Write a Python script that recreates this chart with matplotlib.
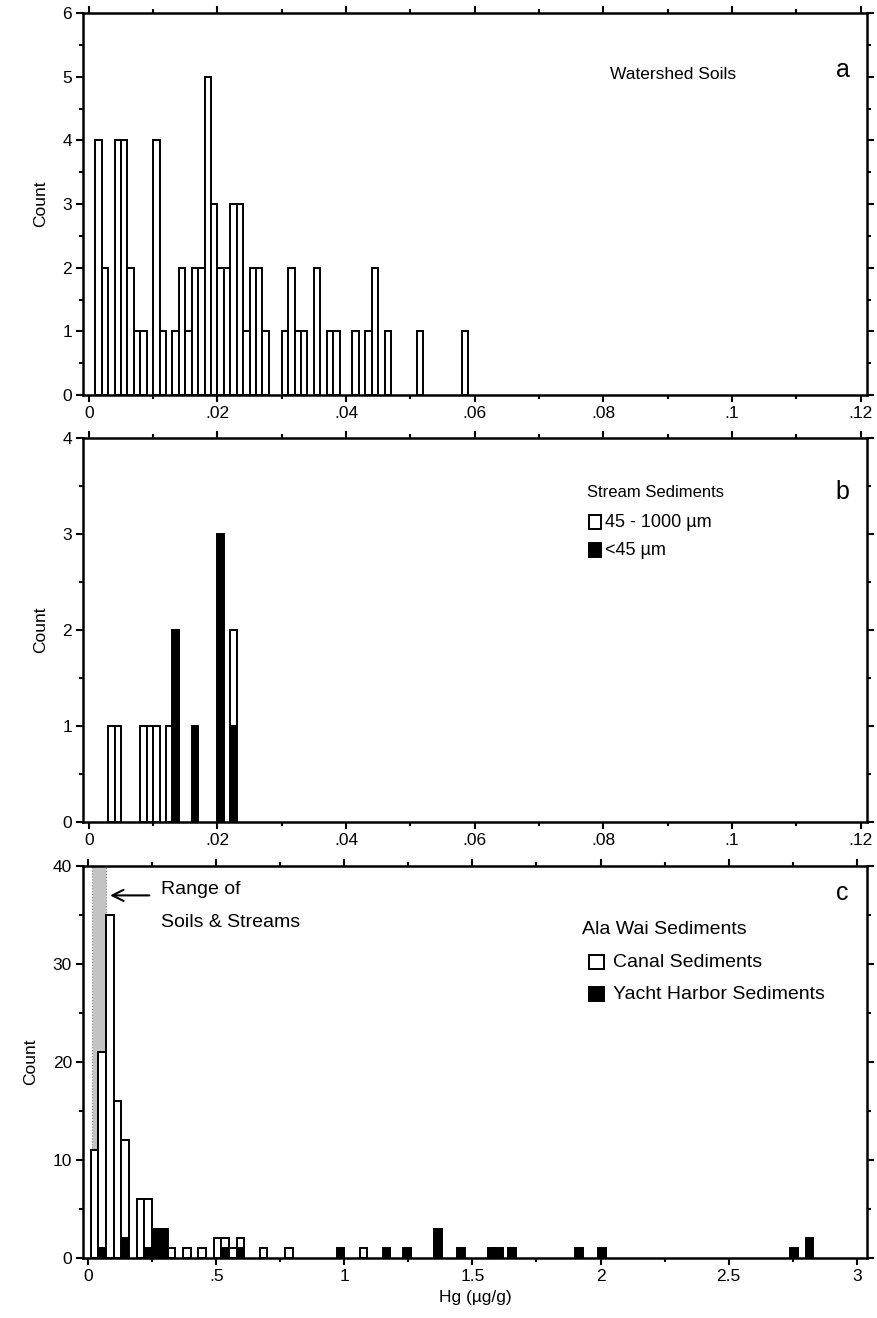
import numpy as np
import matplotlib
matplotlib.use("Agg")
from matplotlib import pyplot as plt
from matplotlib.ticker import MultipleLocator, FuncFormatter
from matplotlib.patches import Rectangle

plt.rcParams['font.family'] = ['Liberation Sans', 'DejaVu Sans']

# Panel a: watershed soils, bins of 0.001 ug/g (left edge in thousandths)
soil_bins = [1, 2, 4, 5, 6, 7, 8, 10, 11, 13, 14, 15, 16, 17, 18, 19, 20, 21, 22, 23,
             24, 25, 26, 27, 30, 31, 32, 33, 35, 37, 38, 41, 43, 44, 46, 51, 58]
soil_counts = [4, 2, 4, 4, 2, 1, 1, 4, 1, 1, 2, 1, 2, 2, 5, 3, 2, 2, 3, 3,
               1, 2, 2, 1, 1, 2, 1, 1, 2, 1, 1, 1, 1, 2, 1, 1, 1]

# Panel b: stream sediments
coarse_bins = [3, 4, 8, 9, 10, 12, 22]
coarse_counts = [1, 1, 1, 1, 1, 1, 1]
fine_bins = [13, 16, 20, 22]
fine_counts = [2, 1, 3, 1]

# Panel c: Ala Wai sediments, bin centres in ug/g, width 0.03
canal_x = [0.025, 0.055, 0.085, 0.115, 0.145, 0.205, 0.235, 0.325, 0.385, 0.445,
           0.505, 0.535, 0.565, 0.595, 0.685, 0.785, 1.075]
canal_n = [11, 20, 35, 16, 10, 6, 5, 1, 1, 1, 2, 1, 1, 1, 1, 1, 1]
yacht_x = [0.055, 0.145, 0.235, 0.265, 0.295, 0.535, 0.595, 0.985, 1.165, 1.245,
           1.365, 1.455, 1.575, 1.605, 1.655, 1.915, 2.005, 2.755, 2.815]
yacht_n = [1, 2, 1, 3, 3, 1, 1, 1, 1, 1, 3, 1, 1, 1, 1, 1, 1, 1, 2]
range_lo, range_hi = 0.015, 0.07

W, H = 877, 1318
fig = plt.figure(figsize=(W / 100, H / 100), dpi=100)


def box(top, bottom):
    return [83 / W, 1 - bottom / H, (867 - 83) / W, (bottom - top) / H]


def tick_fmt(v, pos):
    if abs(v) < 1e-12:
        return '0'
    s = f"{v:g}"
    if s.startswith('0.'):
        s = s[1:]
    return s


def style(ax, xmaj, xmin, ymaj, ymin):
    ax.xaxis.set_major_locator(MultipleLocator(xmaj))
    ax.xaxis.set_minor_locator(MultipleLocator(xmin))
    ax.yaxis.set_major_locator(MultipleLocator(ymaj))
    ax.yaxis.set_minor_locator(MultipleLocator(ymin))
    ax.xaxis.set_major_formatter(FuncFormatter(tick_fmt))
    ax.tick_params(which='both', direction='out', top=True, right=True,
                   labelsize=12.5, width=1.5, pad=3)
    ax.tick_params(which='major', length=5)
    ax.tick_params(which='minor', length=3)
    for sp in ax.spines.values():
        sp.set_linewidth(1.8)
    ax.set_ylabel('Count', fontsize=12.5, labelpad=10)


bar_kw = dict(align='edge', edgecolor='black', linewidth=1.4)

# ---- a
ax1 = fig.add_axes(box(13, 395))
ax1.bar(np.array(soil_bins) / 1000, soil_counts, 0.001, facecolor='white', **bar_kw)
ax1.set_xlim(-0.0009, 0.121)
ax1.set_ylim(0, 6)
style(ax1, 0.02, 0.01, 1, 0.5)
ax1.text(0.672, 0.838, 'Watershed Soils', transform=ax1.transAxes, fontsize=12.5, va='center')
ax1.text(0.969, 0.851, 'a', transform=ax1.transAxes, fontsize=18, va='center', ha='center')

# ---- b
ax2 = fig.add_axes(box(438, 822))
fine_x = np.array(fine_bins) / 1000
ax2.bar(fine_x, fine_counts, 0.001, facecolor='black', **bar_kw)
fine_lookup = dict(zip(fine_bins, fine_counts))
coarse_bottom = [fine_lookup.get(b, 0) for b in coarse_bins]
ax2.bar(np.array(coarse_bins) / 1000, coarse_counts, 0.001, bottom=coarse_bottom,
        facecolor='white', **bar_kw)
ax2.set_xlim(-0.0009, 0.121)
ax2.set_ylim(0, 4)
style(ax2, 0.02, 0.01, 1, 0.5)
ax2.text(0.643, 0.857, 'Stream Sediments', transform=ax2.transAxes, fontsize=12, va='center')
ax2.text(0.968, 0.859, 'b', transform=ax2.transAxes, fontsize=18, va='center', ha='center')
for yy, fc, lab in [(0.781, 'white', '45 - 1000 \u00b5m'), (0.708, 'black', '<45 \u00b5m')]:
    ax2.add_patch(Rectangle((0.645, yy - 0.018), 0.016, 0.036, transform=ax2.transAxes,
                            facecolor=fc, edgecolor='black', linewidth=1.4))
    ax2.text(0.666, yy, lab, transform=ax2.transAxes, fontsize=13, va='center')

# ---- c
ax3 = fig.add_axes(box(866, 1258))
ax3.axvspan(range_lo, range_hi, facecolor='#c4c4c4', edgecolor='#888888',
            linestyle=':', linewidth=0.8, zorder=0)
yacht_lookup = dict(zip(yacht_x, yacht_n))
canal_bottom = [yacht_lookup.get(x, 0) for x in canal_x]
ax3.bar(np.array(yacht_x) - 0.015, yacht_n, 0.03, facecolor='black', **bar_kw)
ax3.bar(np.array(canal_x) - 0.015, canal_n, 0.03, bottom=canal_bottom,
        facecolor='white', **bar_kw)
ax3.set_xlim(-0.02, 3.04)
ax3.set_ylim(0, 40)
style(ax3, 0.5, 0.25, 10, 5)
ax3.set_xlabel('Hg (\u00b5g/g)', fontsize=12.5, labelpad=4)
ax3.annotate('', xy=(range_hi + 0.005, 37), xytext=(0.25, 37),
             arrowprops=dict(arrowstyle='->', color='black', lw=1.5, mutation_scale=20))
ax3.text(0.0995, 0.939, 'Range of', transform=ax3.transAxes, fontsize=14, va='center')
ax3.text(0.0995, 0.857, 'Soils & Streams', transform=ax3.transAxes, fontsize=14, va='center')
ax3.text(0.637, 0.837, 'Ala Wai Sediments', transform=ax3.transAxes, fontsize=14, va='center')
ax3.text(0.969, 0.931, 'c', transform=ax3.transAxes, fontsize=18, va='center', ha='center')
for yy, fc, lab in [(0.755, 'white', 'Canal Sediments'), (0.673, 'black', 'Yacht Harbor Sediments')]:
    ax3.add_patch(Rectangle((0.645, yy - 0.018), 0.02, 0.036, transform=ax3.transAxes,
                            facecolor=fc, edgecolor='black', linewidth=1.4))
    ax3.text(0.676, yy, lab, transform=ax3.transAxes, fontsize=14, va='center')

fig.savefig('out.png', dpi=100)
